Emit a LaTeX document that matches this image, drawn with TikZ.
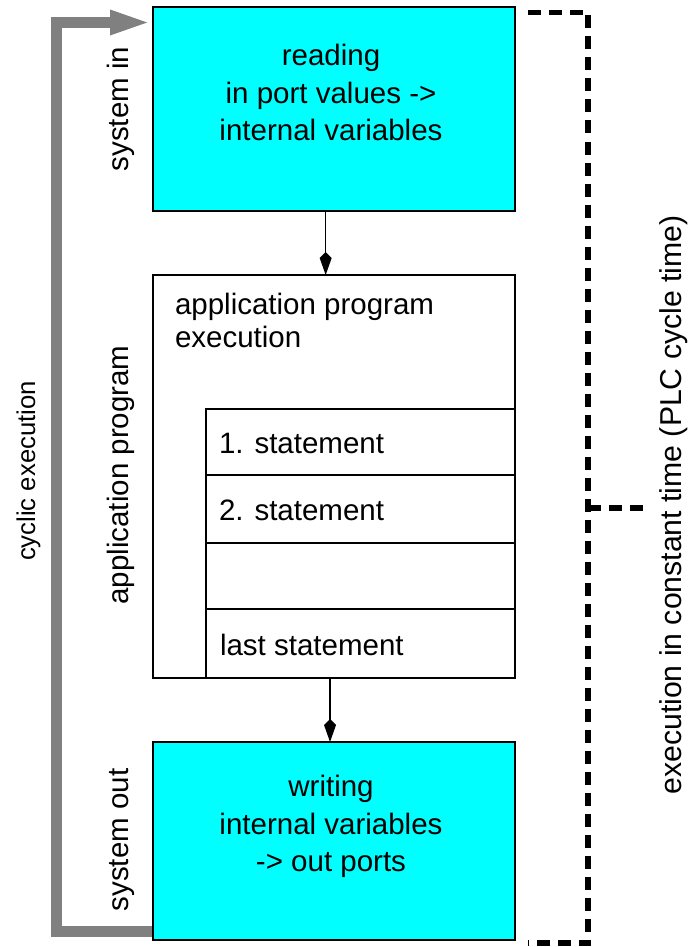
\documentclass[tikz,border=0pt]{standalone}
\usepackage{fontspec}
\setmainfont{Liberation Sans}
\usetikzlibrary{arrows.meta,calc}
\definecolor{stagecyan}{RGB}{0,255,255}
\definecolor{loopgray}{RGB}{128,128,128}

\begin{document}
\begin{tikzpicture}[x=1pt,y=-1pt,
  stagebox/.style={draw=black, line width=2pt, fill=stagecyan, anchor=north west,
    minimum width=362pt, inner sep=0pt, outer sep=0pt},
  plainbox/.style={draw=black, line width=2pt, anchor=north west, inner sep=0pt, outer sep=0pt},
  txt/.style={font=\fontsize{29.5}{36}\selectfont, inner sep=0pt, outer sep=0pt},
  bigtxt/.style={font=\fontsize{30.2}{36}\selectfont, inner sep=0pt, outer sep=0pt},
  smalltxt/.style={font=\fontsize{25.7}{31}\selectfont, inner sep=0pt, outer sep=0pt},
  flow/.style={-{Kite[length=23pt,width=12pt,inset=6pt]}, line width=1.6pt},
  loopline/.style={draw=loopgray, line width=11pt, line join=miter,
    -{Triangle[length=42pt,width=22pt]}},
  bracket/.style={line width=5.5pt, dash pattern=on 13pt off 8pt}]
\useasboundingbox (0,0) rectangle (689,947);

% cyclic return path (drawn first so the boxes sit on top)
\coordinate (loopstart) at (153,931);
\coordinate (loopend) at (152,22.5);
\draw[loopline] (loopstart) -- ++(-97,0) |- (loopend);

% the three stages
\node[stagebox, minimum height=204pt] (sysin) at (153,7) {};
\node[plainbox, minimum width=362pt, minimum height=403pt] (prog) at (153,275) {};
\node[plainbox, minimum width=309.5pt, minimum height=66pt] (row1) at (205.5,409) {};
\node[plainbox, minimum width=309.5pt, minimum height=68pt] (row2) at (205.5,475) {};
\node[plainbox, minimum width=309.5pt, minimum height=66pt] (row3) at (205.5,543) {};
\node[plainbox, minimum width=309.5pt, minimum height=69pt] (row4) at (205.5,609) {};
\node[stagebox, minimum height=198pt] (sysout) at (153,742) {};

% texts inside the stages
\node[txt, anchor=base] (in1) at (331,66) {reading};
\node[txt, anchor=base] (in2) at (331,104) {in port values ->};
\node[txt, anchor=base] (in3) at (331,140) {internal variables};

\node[txt, anchor=base west] (pg1) at (175,314) {application program};
\node[txt, anchor=base west] (pg2) at (175,347) {execution};

\node[txt, anchor=base west] (st1) at (219,453) {1. statement};
\node[txt, anchor=base west] (st2) at (219,520) {2. statement};
\node[txt, anchor=base west] (st4) at (220,655) {last statement};

\node[txt, anchor=base] (out1) at (331,796) {writing};
\node[txt, anchor=base] (out2) at (331,834) {internal variables};
\node[txt, anchor=base] (out3) at (331,871) {-> out ports};

% data flow between the stages
\draw[flow] ($(sysin.south west)!0.477!(sysin.south east)$) -- ($(prog.north west)!0.477!(prog.north east)$);
\draw[flow] ($(prog.south west)!0.489!(prog.south east)$) -- ($(sysout.north west)!0.489!(sysout.north east)$);

% side labels
\node[txt, rotate=90, anchor=base] (lblin) at (128,109) {system in};
\node[txt, rotate=90, anchor=base] (lblprog) at (128,475) {application program};
\node[txt, rotate=90, anchor=base] (lblout) at (128,840) {system out};
\node[smalltxt, rotate=90, anchor=base] (lblcyc) at (35,471) {cyclic execution};

% constant-time bracket
\coordinate (brtop) at (528,12.5);
\coordinate (brbot) at (528,943);
\coordinate (brcorner) at (588,943);
\coordinate (brmid) at (588,508);
\coordinate (brtick) at (648,508);
\draw[bracket] (brtop) -| (brcorner) -- (brbot);
\draw[bracket] (brmid) -- (brtick);
\node[bigtxt, rotate=90, anchor=base] (lbltime) at (681,505) {execution in constant time (PLC cycle time)};
\end{tikzpicture}
\end{document}
